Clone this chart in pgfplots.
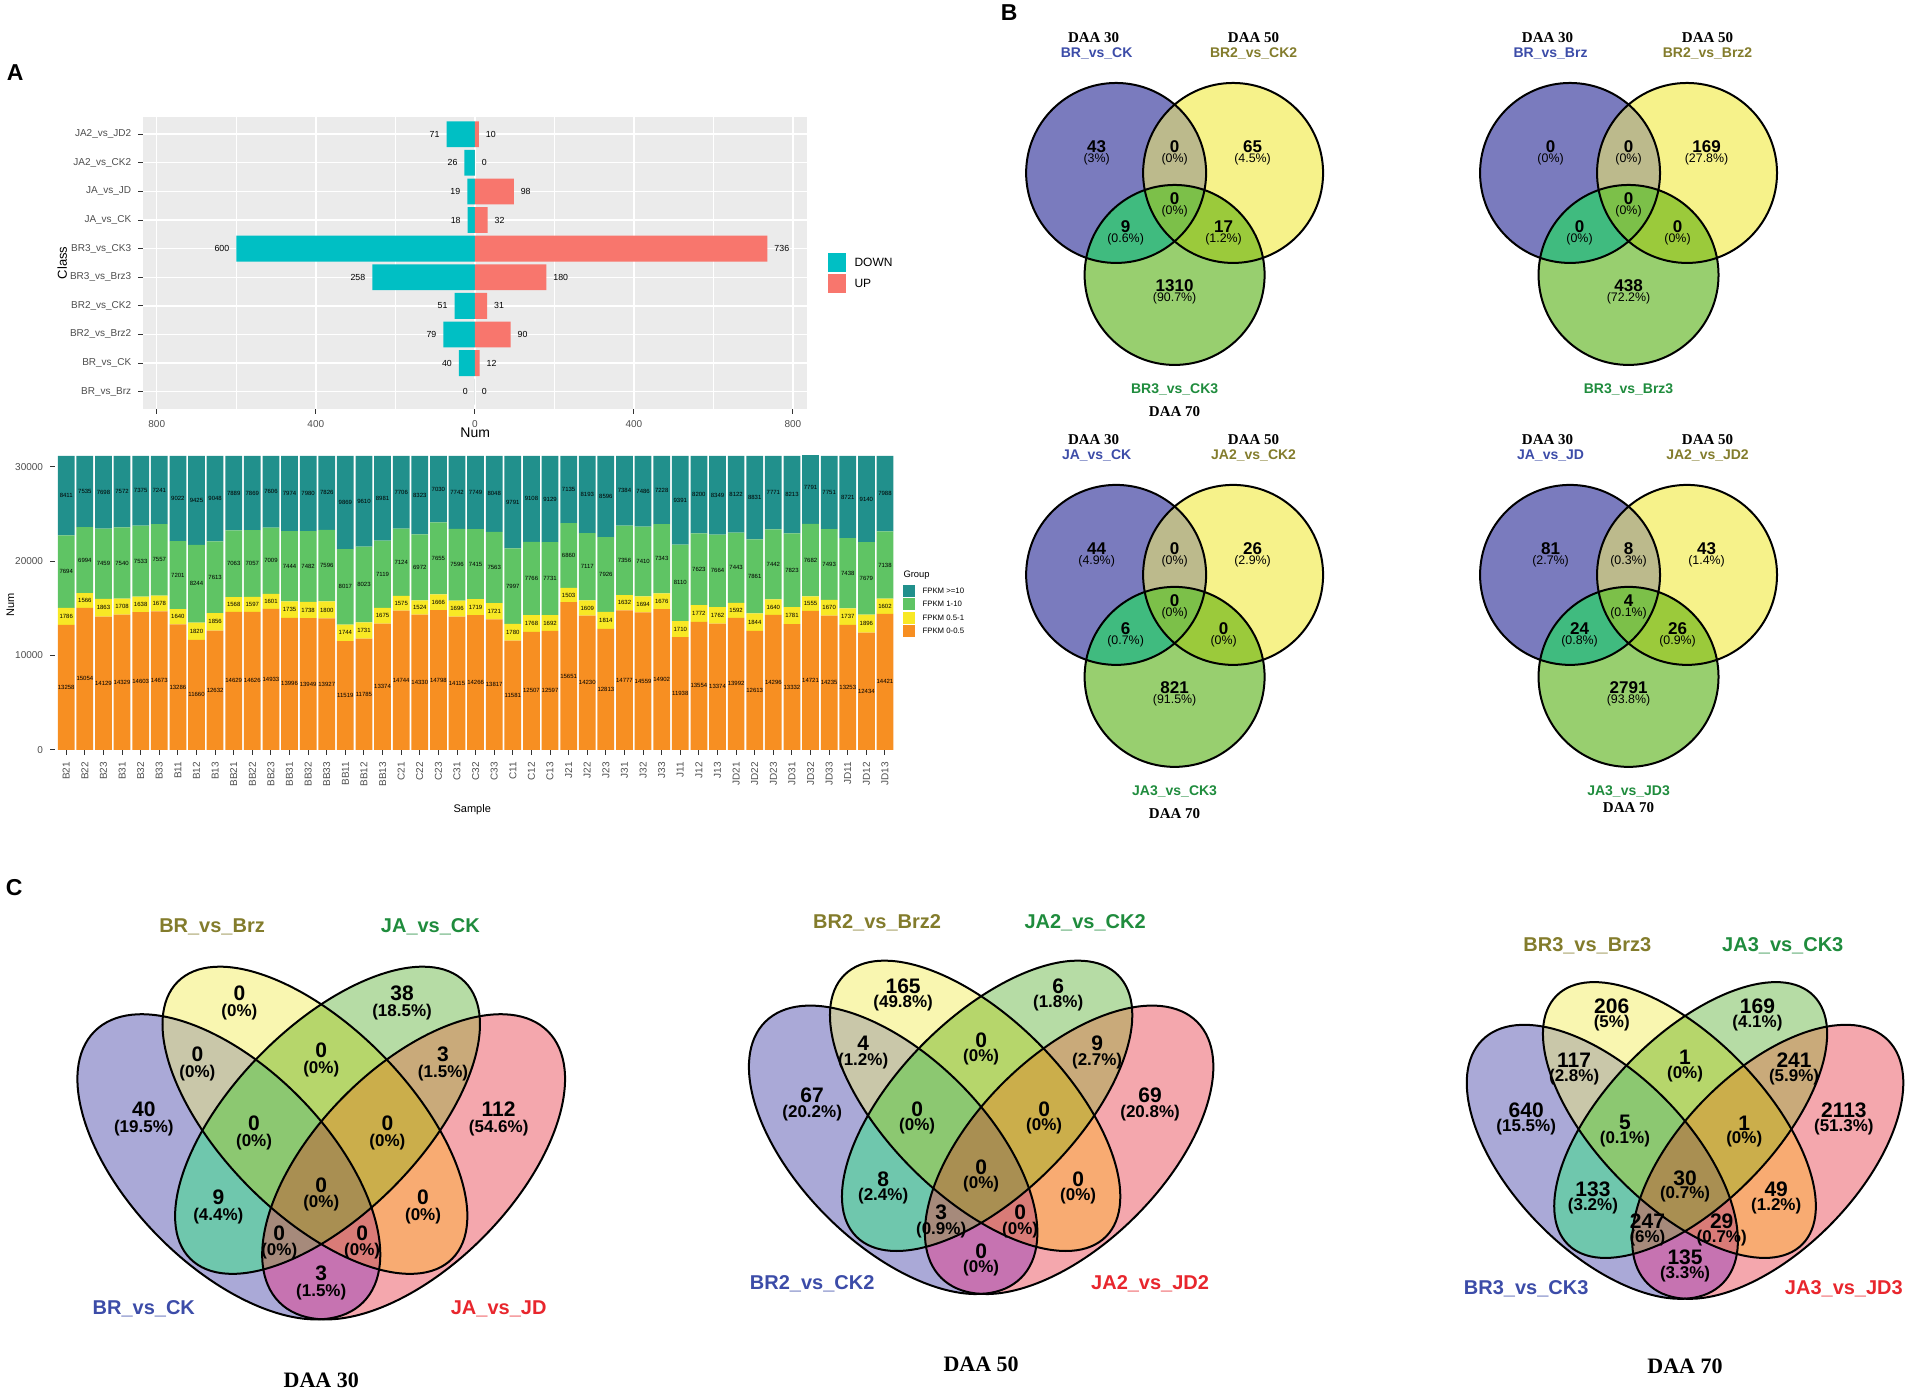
\documentclass[border=0pt]{standalone}
\usepackage{pgfplots}
\pgfplotsset{compat=1.18}
\usepackage{pgfplotstable}
\usepackage{fontspec}
\setmainfont{Liberation Sans}
\newfontfamily\tserif{Liberation Serif}
\newcommand\fs[1]{\fontsize{#1pt}{#1pt}\selectfont}

\definecolor{cdown}{HTML}{00BFC4}
\definecolor{cup}{HTML}{F8766D}
\definecolor{panelgray}{HTML}{EBEBEB}
\definecolor{gray20}{HTML}{333333}
\definecolor{gray30}{HTML}{4D4D4D}
\definecolor{fteal}{HTML}{21908C}
\definecolor{fgreen}{HTML}{5FC464}
\definecolor{fyel}{HTML}{F8E825}
\definecolor{forg}{HTML}{F78F22}
% 3-set venn
\definecolor{vA}{HTML}{7A7BBE}
\definecolor{vB}{HTML}{F6F28A}
\definecolor{vC}{HTML}{98CF6F}
\definecolor{vAB}{HTML}{BCBA8C}
\definecolor{vAC}{HTML}{40BB7F}
\definecolor{vBC}{HTML}{9BCA3B}
\definecolor{vABC}{HTML}{7CC049}
\definecolor{tblue}{HTML}{3C4CA8}
\definecolor{tolive}{HTML}{837C2C}
\definecolor{tgreen}{HTML}{1F8C3D}
\definecolor{tred}{HTML}{E8262D}
% 4-set venn
\definecolor{cB}{HTML}{AAA9D7}
\definecolor{cY}{HTML}{F9F6B0}
\definecolor{cG}{HTML}{B6DCA5}
\definecolor{cR}{HTML}{F4A7AD}
\definecolor{cBY}{HTML}{C9C7A9}
\definecolor{cBG}{HTML}{6FC7AD}
\definecolor{cBR}{HTML}{C673B1}
\definecolor{cYG}{HTML}{B6D66B}
\definecolor{cYR}{HTML}{F8AB72}
\definecolor{cGR}{HTML}{C9AA7A}
\definecolor{cBYG}{HTML}{8CC871}
\definecolor{cBYR}{HTML}{D97B77}
\definecolor{cBGR}{HTML}{A68A7B}
\definecolor{cYGR}{HTML}{CBAE4B}
\definecolor{cBYGR}{HTML}{A98F52}

\pgfplotstableread{
y down dl up
1 0 0 0
2 -40 40 12
3 -79 79 90
4 -51 51 31
5 -258 258 180
6 -600 600 736
7 -18 18 32
8 -19 19 98
9 -26 26 0
10 -71 71 10
}\degtab

\pgfplotstableread{
x name o yl g t
1 B21 13258 1786 7694 8411
2 B22 15054 1566 6994 7535
3 B23 14129 1863 7459 7698
4 B31 14329 1708 7540 7572
5 B32 14603 1638 7533 7375
6 B33 14673 1678 7557 7241
7 B11 13286 1640 7201 9022
8 B12 11660 1820 8244 9425
9 B13 12632 1856 7613 9048
10 BB21 14629 1568 7063 7889
11 BB22 14626 1597 7057 7869
12 BB23 14933 1601 7009 7606
13 BB31 13996 1735 7444 7974
14 BB32 13949 1738 7482 7980
15 BB33 13927 1800 7596 7826
16 BB11 11519 1744 8017 9869
17 BB12 11785 1731 8023 9610
18 BB13 13374 1675 7119 8981
19 C21 14744 1575 7124 7706
20 C22 14330 1524 6972 8323
21 C23 14798 1666 7655 7030
22 C31 14115 1696 7596 7742
23 C32 14266 1719 7415 7749
24 C33 13817 1721 7563 8048
25 C11 11581 1780 7997 9791
26 C12 12507 1768 7766 9108
27 C13 12597 1692 7731 9129
28 J21 15651 1503 6860 7135
29 J22 14230 1609 7117 8193
30 J23 12813 1814 7926 8596
31 J31 14777 1632 7356 7384
32 J32 14559 1694 7410 7486
33 J33 14902 1676 7343 7228
34 J11 11938 1710 8110 9391
35 J12 13554 1772 7623 8200
36 J13 13374 1762 7664 8349
37 JD21 13992 1592 7443 8122
38 JD22 12613 1844 7861 8831
39 JD23 14296 1640 7442 7771
40 JD31 13332 1781 7823 8213
41 JD32 14721 1555 7682 7791
42 JD33 14235 1670 7493 7751
43 JD11 13253 1737 7438 8721
44 JD12 12434 1896 7679 9140
45 JD13 14421 1602 7138 7988
}\stk

% ---- 3-set Venn
\newcommand\vennthree{%
 \fill[vA] (-58.5,0) circle[radius=90];
 \fill[vB] (58.5,0) circle[radius=90];
 \fill[vC] (0,-102) circle[radius=90];
 \begin{scope}\clip (-58.5,0) circle[radius=90]; \fill[vAB] (58.5,0) circle[radius=90];\end{scope}
 \begin{scope}\clip (-58.5,0) circle[radius=90]; \fill[vAC] (0,-102) circle[radius=90];\end{scope}
 \begin{scope}\clip (58.5,0) circle[radius=90]; \fill[vBC] (0,-102) circle[radius=90];\end{scope}
 \begin{scope}\clip (-58.5,0) circle[radius=90]; \clip (58.5,0) circle[radius=90]; \fill[vABC] (0,-102) circle[radius=90];\end{scope}
 \draw[line width=1pt] (-58.5,0) circle[radius=90] (58.5,0) circle[radius=90] (0,-102) circle[radius=90];
}
\newcommand\vbn[4]{\node[font={\bfseries\fs{8.5}}] at (#1,#2+6) {#3};\node[font={\fs{6.2}}] at (#1,#2-6.5) {#4};}

% ---- 4-set Venn
\newcommand\clB{\clip[rotate around={-45:(-88,0)}] (-88,0) ellipse [x radius=181, y radius=94];}
\newcommand\clY{\clip[rotate around={-45:(-6,44)}] (-6,44) ellipse [x radius=185, y radius=89];}
\newcommand\clG{\clip[rotate around={45:(6,44)}] (6,44) ellipse [x radius=185, y radius=89];}
\newcommand\fB[1]{\fill[#1,rotate around={-45:(-88,0)}] (-88,0) ellipse [x radius=181, y radius=94];}
\newcommand\fY[1]{\fill[#1,rotate around={-45:(-6,44)}] (-6,44) ellipse [x radius=185, y radius=89];}
\newcommand\fG[1]{\fill[#1,rotate around={45:(6,44)}] (6,44) ellipse [x radius=185, y radius=89];}
\newcommand\fR[1]{\fill[#1,rotate around={45:(88,0)}] (88,0) ellipse [x radius=181, y radius=94];}
\newcommand\vennfour{%
 \fB{cB}\fY{cY}\fG{cG}\fR{cR}
 \begin{scope}\clB\fY{cBY}\end{scope}
 \begin{scope}\clB\fG{cBG}\end{scope}
 \begin{scope}\clB\fR{cBR}\end{scope}
 \begin{scope}\clY\fG{cYG}\end{scope}
 \begin{scope}\clY\fR{cYR}\end{scope}
 \begin{scope}\clG\fR{cGR}\end{scope}
 \begin{scope}\clB\clY\fG{cBYG}\end{scope}
 \begin{scope}\clB\clY\fR{cBYR}\end{scope}
 \begin{scope}\clB\clG\fR{cBGR}\end{scope}
 \begin{scope}\clY\clG\fR{cYGR}\end{scope}
 \begin{scope}\clB\clY\clG\fR{cBYGR}\end{scope}
 \fB{draw=black,line width=1pt,fill=none}\fY{draw=black,line width=1pt,fill=none}%
 \fG{draw=black,line width=1pt,fill=none}\fR{draw=black,line width=1pt,fill=none}%
}
\newcommand\vcn[4]{\node[font={\bfseries\fs{10.5}}] at (#1,#2+8.5) {#3};\node[font={\bfseries\fs{8.5}}] at (#1,#2-9) {#4};}
\newcommand\vfourA[8]{\vcn{-78}{155.5}{#1}{#2}\vcn{77}{155.5}{#3}{#4}\vcn{-118}{98}{#5}{#6}\vcn{0}{101.5}{#7}{#8}}
\newcommand\vfourB[8]{\vcn{116}{98}{#1}{#2}\vcn{-169}{46}{#3}{#4}\vcn{-64}{32.5}{#5}{#6}\vcn{63}{32.5}{#7}{#8}}
\newcommand\vfourC[8]{\vcn{169}{46}{#1}{#2}\vcn{0}{-25.5}{#3}{#4}\vcn{-98}{-37.5}{#5}{#6}\vcn{97}{-37.5}{#7}{#8}}
\newcommand\vfourD[6]{\vcn{-40}{-71}{#1}{#2}\vcn{39}{-71}{#3}{#4}\vcn{0}{-109.5}{#5}{#6}}
\newcommand\vfourL[6]{%
 \node[font={\bfseries\fs{10}},text=tolive] at (-104,227) {#1};
 \node[font={\bfseries\fs{10}},text=tgreen] at (104,227) {#2};
 \node[font={\bfseries\fs{10}},text=tblue] at (-169,-134) {#3};
 \node[font={\bfseries\fs{10}},text=tred] at (169,-134) {#4};
 \node[font={\tserif\bfseries\fs{11}}] at (0,#6) {#5};}

\begin{document}
\begin{tikzpicture}
\begin{scope}[x=0.5pt,y=0.5pt]
\path[use as bounding box] (0,0) rectangle (1907,1395);
% panel letters
\node[font={\bfseries\fs{11.5}}] at (15,1322) {A};
\node[font={\bfseries\fs{11.5}}] at (1009,1382) {B};
\node[font={\bfseries\fs{11.5}}] at (14,507) {C};
% legend of top chart
\fill[cdown] (828,1123) rectangle (846,1142);
\fill[cup] (828,1102) rectangle (846,1121);
\node[font=\fs{6},anchor=west,inner sep=0pt] at (854,1132.5) {DOWN};
\node[font=\fs{6},anchor=west,inner sep=0pt] at (854,1111.5) {UP};
% legend of stacked chart
\node[font=\fs{4.7},anchor=west,inner sep=0pt] at (903,820) {Group};
\fill[fteal] (903,798) rectangle (915,810);
\fill[fgreen] (903,785) rectangle (915,797);
\fill[fyel] (903,771) rectangle (915,783);
\fill[forg] (903,758) rectangle (915,770);
\node[font=\fs{3.9},anchor=west,inner sep=0pt] at (922,804) {FPKM >=10};
\node[font=\fs{3.9},anchor=west,inner sep=0pt] at (922,791) {FPKM 1-10};
\node[font=\fs{3.9},anchor=west,inner sep=0pt] at (922,777) {FPKM 0.5-1};
\node[font=\fs{3.9},anchor=west,inner sep=0pt] at (922,764) {FPKM 0-0.5};

% ===== B: 3-set Venns
\begin{scope}[shift={(1174.5,1222)}]
 \vennthree
 \vbn{-78}{20}{43}{(3\%)}\vbn{0}{20}{0}{(0\%)}\vbn{78}{20}{65}{(4.5\%)}
 \vbn{0}{-32}{0}{(0\%)}\vbn{-49}{-60}{9}{(0.6\%)}\vbn{49}{-60}{17}{(1.2\%)}
 \vbn{0}{-119}{1310}{(90.7\%)}
 \node[font={\tserif\bfseries\fs{7.5}}] at (-81,135) {DAA 30};
 \node[font={\tserif\bfseries\fs{7.5}}] at (79,135) {DAA 50};
 \node[font={\bfseries\fs{7}},text=tblue] at (-78,119) {BR\_vs\_CK};
 \node[font={\bfseries\fs{7}},text=tolive] at (79,119) {BR2\_vs\_CK2};
 \node[font={\bfseries\fs{7}},text=tgreen] at (0,-217) {BR3\_vs\_CK3};
 \node[font={\tserif\bfseries\fs{7.5}}] at (0,-239) {DAA 70};
\end{scope}
\begin{scope}[shift={(1628.5,1222)}]
 \vennthree
 \vbn{-78}{20}{0}{(0\%)}\vbn{0}{20}{0}{(0\%)}\vbn{78}{20}{169}{(27.8\%)}
 \vbn{0}{-32}{0}{(0\%)}\vbn{-49}{-60}{0}{(0\%)}\vbn{49}{-60}{0}{(0\%)}
 \vbn{0}{-119}{438}{(72.2\%)}
 \node[font={\tserif\bfseries\fs{7.5}}] at (-81,135) {DAA 30};
 \node[font={\tserif\bfseries\fs{7.5}}] at (79,135) {DAA 50};
 \node[font={\bfseries\fs{7}},text=tblue] at (-78,119) {BR\_vs\_Brz};
 \node[font={\bfseries\fs{7}},text=tolive] at (79,119) {BR2\_vs\_Brz2};
 \node[font={\bfseries\fs{7}},text=tgreen] at (0,-217) {BR3\_vs\_Brz3};
\end{scope}
\begin{scope}[shift={(1174.5,820)}]
 \vennthree
 \vbn{-78}{20}{44}{(4.9\%)}\vbn{0}{20}{0}{(0\%)}\vbn{78}{20}{26}{(2.9\%)}
 \vbn{0}{-32}{0}{(0\%)}\vbn{-49}{-60}{6}{(0.7\%)}\vbn{49}{-60}{0}{(0\%)}
 \vbn{0}{-119}{821}{(91.5\%)}
 \node[font={\tserif\bfseries\fs{7.5}}] at (-81,135) {DAA 30};
 \node[font={\tserif\bfseries\fs{7.5}}] at (79,135) {DAA 50};
 \node[font={\bfseries\fs{7}},text=tblue] at (-78,119) {JA\_vs\_CK};
 \node[font={\bfseries\fs{7}},text=tolive] at (79,119) {JA2\_vs\_CK2};
 \node[font={\bfseries\fs{7}},text=tgreen] at (0,-217) {JA3\_vs\_CK3};
 \node[font={\tserif\bfseries\fs{7.5}}] at (0,-239) {DAA 70};
\end{scope}
\begin{scope}[shift={(1628.5,820)}]
 \vennthree
 \vbn{-78}{20}{81}{(2.7\%)}\vbn{0}{20}{8}{(0.3\%)}\vbn{78}{20}{43}{(1.4\%)}
 \vbn{0}{-32}{4}{(0.1\%)}\vbn{-49}{-60}{24}{(0.8\%)}\vbn{49}{-60}{26}{(0.9\%)}
 \vbn{0}{-119}{2791}{(93.8\%)}
 \node[font={\tserif\bfseries\fs{7.5}}] at (-81,135) {DAA 30};
 \node[font={\tserif\bfseries\fs{7.5}}] at (79,135) {DAA 50};
 \node[font={\bfseries\fs{7}},text=tblue] at (-78,119) {JA\_vs\_JD};
 \node[font={\bfseries\fs{7}},text=tolive] at (79,119) {JA2\_vs\_JD2};
 \node[font={\bfseries\fs{7}},text=tgreen] at (0,-217) {JA3\_vs\_JD3};
 \node[font={\tserif\bfseries\fs{7.5}}] at (0,-233) {DAA 70};
\end{scope}

% ===== C: 4-set Venns
\begin{scope}[shift={(321,228)},xscale=1.05,yscale=1.058]
 \vennfour
 \vfourA{0}{(0\%)}{38}{(18.5\%)}{0}{(0\%)}{0}{(0\%)}
 \vfourB{3}{(1.5\%)}{40}{(19.5\%)}{0}{(0\%)}{0}{(0\%)}
 \vfourC{112}{(54.6\%)}{0}{(0\%)}{9}{(4.4\%)}{0}{(0\%)}
 \vfourD{0}{(0\%)}{0}{(0\%)}{3}{(1.5\%)}
 \vfourL{BR\_vs\_Brz}{JA\_vs\_CK}{BR\_vs\_CK}{JA\_vs\_JD}{DAA 30}{-202}
\end{scope}
\begin{scope}[shift={(981,245)}]
 \vennfour
 \vfourA{165}{(49.8\%)}{6}{(1.8\%)}{4}{(1.2\%)}{0}{(0\%)}
 \vfourB{9}{(2.7\%)}{67}{(20.2\%)}{0}{(0\%)}{0}{(0\%)}
 \vfourC{69}{(20.8\%)}{0}{(0\%)}{8}{(2.4\%)}{0}{(0\%)}
 \vfourD{3}{(0.9\%)}{0}{(0\%)}{0}{(0\%)}
 \vfourL{BR2\_vs\_Brz2}{JA2\_vs\_CK2}{BR2\_vs\_CK2}{JA2\_vs\_JD2}{DAA 50}{-215}
\end{scope}
\begin{scope}[shift={(1685,233)},xscale=0.94,yscale=0.95]
 \vennfour
 \vfourA{206}{(5\%)}{169}{(4.1\%)}{117}{(2.8\%)}{1}{(0\%)}
 \vfourB{241}{(5.9\%)}{640}{(15.5\%)}{5}{(0.1\%)}{1}{(0\%)}
 \vfourC{2113}{(51.3\%)}{30}{(0.7\%)}{133}{(3.2\%)}{49}{(1.2\%)}
 \vfourD{247}{(6\%)}{29}{(0.7\%)}{135}{(3.3\%)}
 \vfourL{BR3\_vs\_Brz3}{JA3\_vs\_CK3}{BR3\_vs\_CK3}{JA3\_vs\_JD3}{DAA 70}{-215}
\end{scope}
\end{scope}

% ===== A top: DEG counts
\begin{axis}[
  at={(71.5pt,493pt)}, anchor=south west,
  scale only axis, width=332pt, height=146pt,
  xbar, bar width=0.9,
  xmin=-834, xmax=836, ymin=0.4, ymax=10.6,
  axis background/.style={fill=panelgray},
  axis line style={draw=none},
  tick pos=left, tick align=outside,
  major tick length=2.5pt, minor tick length=0pt,
  tick style={draw=gray20, line width=0.5pt},
  xtick={-800,-400,0,400,800}, xticklabels={800,400,0,400,800},
  minor xtick={-600,-200,200,600},
  ytick={1,...,10},
  yticklabels={BR\_vs\_Brz,BR\_vs\_CK,BR2\_vs\_Brz2,BR2\_vs\_CK2,BR3\_vs\_Brz3,BR3\_vs\_CK3,JA\_vs\_CK,JA\_vs\_JD,JA2\_vs\_CK2,JA2\_vs\_JD2},
  xmajorgrids, xminorgrids, ymajorgrids,
  major grid style={white, line width=0.7pt},
  minor grid style={white, line width=0.35pt},
  ticklabel style={font=\fs{5}, text=gray30},
  xlabel={Num}, ylabel={Class},
  xlabel style={font=\fs{7}, at={(axis description cs:0.5,-0.082)}, anchor=center},
  ylabel style={font=\fs{6.5}, at={(axis description cs:-0.122,0.5)}, anchor=center},
  clip=false,
]
\addplot[fill=cdown, draw=none, bar shift=0pt, nodes near coords, point meta=explicit symbolic,
  every node near coord/.append style={anchor=east, font=\fs{4.4}, text=black}]
  table[x=down, y=y, meta=dl]{\degtab};
\addplot[fill=cup, draw=none, bar shift=0pt, nodes near coords, point meta=explicit symbolic,
  every node near coord/.append style={anchor=west, font=\fs{4.4}, text=black}]
  table[x=up, y=y, meta=up]{\degtab};
\end{axis}

% ===== A bottom: stacked FPKM
\begin{axis}[
  at={(27.4pt,322.5pt)}, anchor=south west,
  scale only axis, width=420.6pt, height=147pt,
  ybar stacked, bar width=0.9,
  xmin=0.4, xmax=45.6, ymin=0, ymax=31149,
  axis line style={draw=none},
  tick pos=left, tick align=outside, major tick length=2.5pt,
  tick style={draw=gray20, line width=0.5pt},
  xtick={1,...,45}, xticklabels from table={\stk}{name},
  ytick={0,10000,20000,30000}, yticklabels={0,10000,20000,30000},
  scaled y ticks=false,
  x tick label style={rotate=90, anchor=east, font=\fs{5}, text=gray30},
  y tick label style={font=\fs{5}, text=gray30},
  xlabel={Sample}, ylabel={Num},
  xlabel style={font=\fs{5.5}, at={(axis description cs:0.496,-0.204)}, anchor=center},
  ylabel style={font=\fs{5.5}, at={(axis description cs:-0.053,0.493)}, anchor=center},
]
\addplot[fill=forg, draw=none] table[x=x, y=o]{\stk};
\addplot[fill=fyel, draw=none] table[x=x, y=yl]{\stk};
\addplot[fill=fgreen, draw=none] table[x=x, y=g]{\stk};
\addplot[fill=fteal, draw=none] table[x=x, y=t]{\stk};
\end{axis}
\begin{axis}[
  at={(27.4pt,322.5pt)}, anchor=south west,
  scale only axis, width=420.6pt, height=147pt,
  xmin=0.4, xmax=45.6, ymin=0, ymax=31149,
  hide axis, clip=false,
  every node near coord/.append style={anchor=center, font=\fs{3}, inner sep=0pt, text=black},
]
\addplot[only marks, mark=*, mark size=0pt, mark options={draw=none,fill=none}, nodes near coords, point meta=explicit symbolic]
  table[x=x, y expr=\thisrow{o}/2, meta=o]{\stk};
\addplot[only marks, mark=*, mark size=0pt, mark options={draw=none,fill=none}, nodes near coords, point meta=explicit symbolic]
  table[x=x, y expr=\thisrow{o}+\thisrow{yl}/2, meta=yl]{\stk};
\addplot[only marks, mark=*, mark size=0pt, mark options={draw=none,fill=none}, nodes near coords, point meta=explicit symbolic]
  table[x=x, y expr=\thisrow{o}+\thisrow{yl}+\thisrow{g}/2, meta=g]{\stk};
\addplot[only marks, mark=*, mark size=0pt, mark options={draw=none,fill=none}, nodes near coords, point meta=explicit symbolic]
  table[x=x, y expr=\thisrow{o}+\thisrow{yl}+\thisrow{g}+\thisrow{t}/2, meta=t]{\stk};
\end{axis}
\end{tikzpicture}
\end{document}
